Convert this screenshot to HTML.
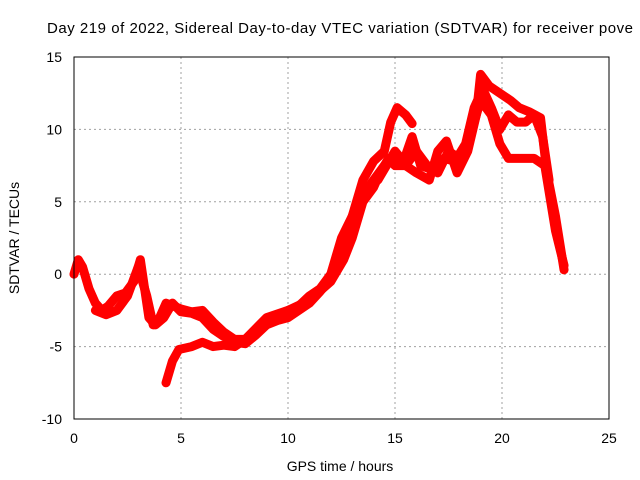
<!DOCTYPE html>
<html><head><meta charset="utf-8"><style>
body{margin:0;background:#fff;}
svg{display:block;font-family:"Liberation Sans",sans-serif;font-size:14px;}
</style></head><body>
<svg id="chart" width="640" height="480">
<text x="47" y="33" textLength="586" lengthAdjust="spacing" style="font-size:15px">Day 219 of 2022, Sidereal Day-to-day VTEC variation (SDTVAR) for receiver pove</text>
<g id="grid"></g><g id="ticks"></g><g id="series"></g>
<rect x="74" y="57" width="535" height="362" fill="none" stroke="#000" stroke-width="1"/>
<text x="340" y="471" text-anchor="middle">GPS time / hours</text>
<text transform="translate(19,238) rotate(-90)" text-anchor="middle">SDTVAR / TECUs</text>
</svg>
<script>
const xTicks=[0,5,10,15,20,25];
const yTicks=[-10,-5,0,5,10,15];
const track1H=[0,0.2,0.4,0.7,1.0,1.3,1.6,2.0,2.4,2.8,3.1,3.3,3.5,3.8,4.2,4.6,5.0,5.5,6.0,6.5,7.0,7.5,8.0,8.5,9.0,9.5,10,10.5,11,11.5,12,12.5,13,13.5,14,14.5,14.8,15.1,15.5,15.8];
const track1V=[0,1.0,0.5,-1,-2,-2.5,-2.2,-1.5,-1.3,-0.5,1.0,-1.0,-3,-3.5,-3,-2,-2.6,-2.7,-3,-3.8,-4.3,-4.7,-4.8,-4.2,-3.5,-3.2,-3,-2.5,-2,-1.2,-0.3,1.5,4,6.5,7.8,8.5,10.5,11.5,11,10.4];
const track2H=[4.3,4.6,4.9,5.5,6,6.5,7,7.5,8,8.5,9,9.5,10,10.5,11,11.5,12,12.5,13,13.5,14,14.5,15,15.5,16,16.6,17,17.4,17.9,18.4,18.8,19,19.4,19.9,20.4,20.8,21.3,21.8,22.1,22.5,22.9];
const track2V=[-7.5,-6,-5.2,-5,-4.7,-5,-4.9,-5,-4.5,-3.8,-3.2,-2.8,-2.5,-2.2,-1.5,-1,0,2.5,4,5.5,6.5,7.5,8,7.5,7,6.5,8.5,9.2,7,8.5,11,13.8,13,12.5,12,11.5,11.2,10.8,7,4,0.3];
const track3H=[1.0,1.5,2.0,2.5,3.0,3.4,3.7,4.0,4.3,5,5.5,6,6.5,7,7.5,8,9,10,11,12,12.6,13,13.5,14,14.3,14.7,15,15.5,16,16.5,17,17.5,18,18.5,19,19.5,19.9,20.3,21,21.5,22,22.5,22.9];
const track3V=[-2.5,-2.8,-2.5,-1.5,0.5,-1.5,-3.5,-3,-2,-2.4,-2.6,-2.5,-3.3,-4,-4.5,-4.5,-3,-2.5,-1.8,-0.5,1,2.5,5,6,7,8,7.5,7.5,8.5,7.5,7,8.5,8,9.5,12,11,9,8,8,8,7.5,3,0.6];
const track4H=[14.2,14.6,15.0,15.4,15.8,16.2,16.8,17.3,17.8,18.3,18.7,19.1,19.5,19.9,20.3,20.7,21.1,21.5,21.9,22.2];
const track4V=[6.5,7.5,8.5,7.8,9.5,7.5,7.2,8.0,7.8,9.0,11.5,12.8,11.5,10.0,11.0,10.5,10.5,11.0,9.5,6.5];
const x=h=>74+h*535/25;
const y=v=>419-(v+10)*362/25;
const NS="http://www.w3.org/2000/svg";
const grid=document.getElementById('grid'),ticks=document.getElementById('ticks'),ser=document.getElementById('series');
function mk(tag,attrs,parent){const e=document.createElementNS(NS,tag);for(const k in attrs)e.setAttribute(k,attrs[k]);parent.appendChild(e);return e;}
xTicks.forEach(t=>{
 if(t>0&&t<25){const g=mk('line',{x1:x(t),x2:x(t),y1:57,y2:419,stroke:'#a0a0a0','stroke-dasharray':'2,3'},grid);
 
 }
 const l=mk('text',{x:x(t),y:443,'text-anchor':'middle'},ticks);l.textContent=t;
 
 
});
yTicks.forEach(t=>{
 if(t>-10&&t<15){const g=mk('line',{x1:74,x2:609,y1:y(t),y2:y(t),stroke:'#a0a0a0','stroke-dasharray':'2,3'},grid);
 
 }
 const l=mk('text',{x:62,y:y(t)+5,'text-anchor':'end'},ticks);l.textContent=t;
 
 
});
[[track1H,track1V],[track2H,track2V],[track3H,track3V],[track4H,track4V]].forEach((tr,i)=>{
 const pts=tr[0].map((h,j)=>x(h)+','+y(tr[1][j])).join(' ');
 const p=mk('polyline',{points:pts,fill:'none',stroke:'#ff0000','stroke-width':9,'stroke-linejoin':'round','stroke-linecap':'round'},ser);
 
 
});
</script>
</body></html>
